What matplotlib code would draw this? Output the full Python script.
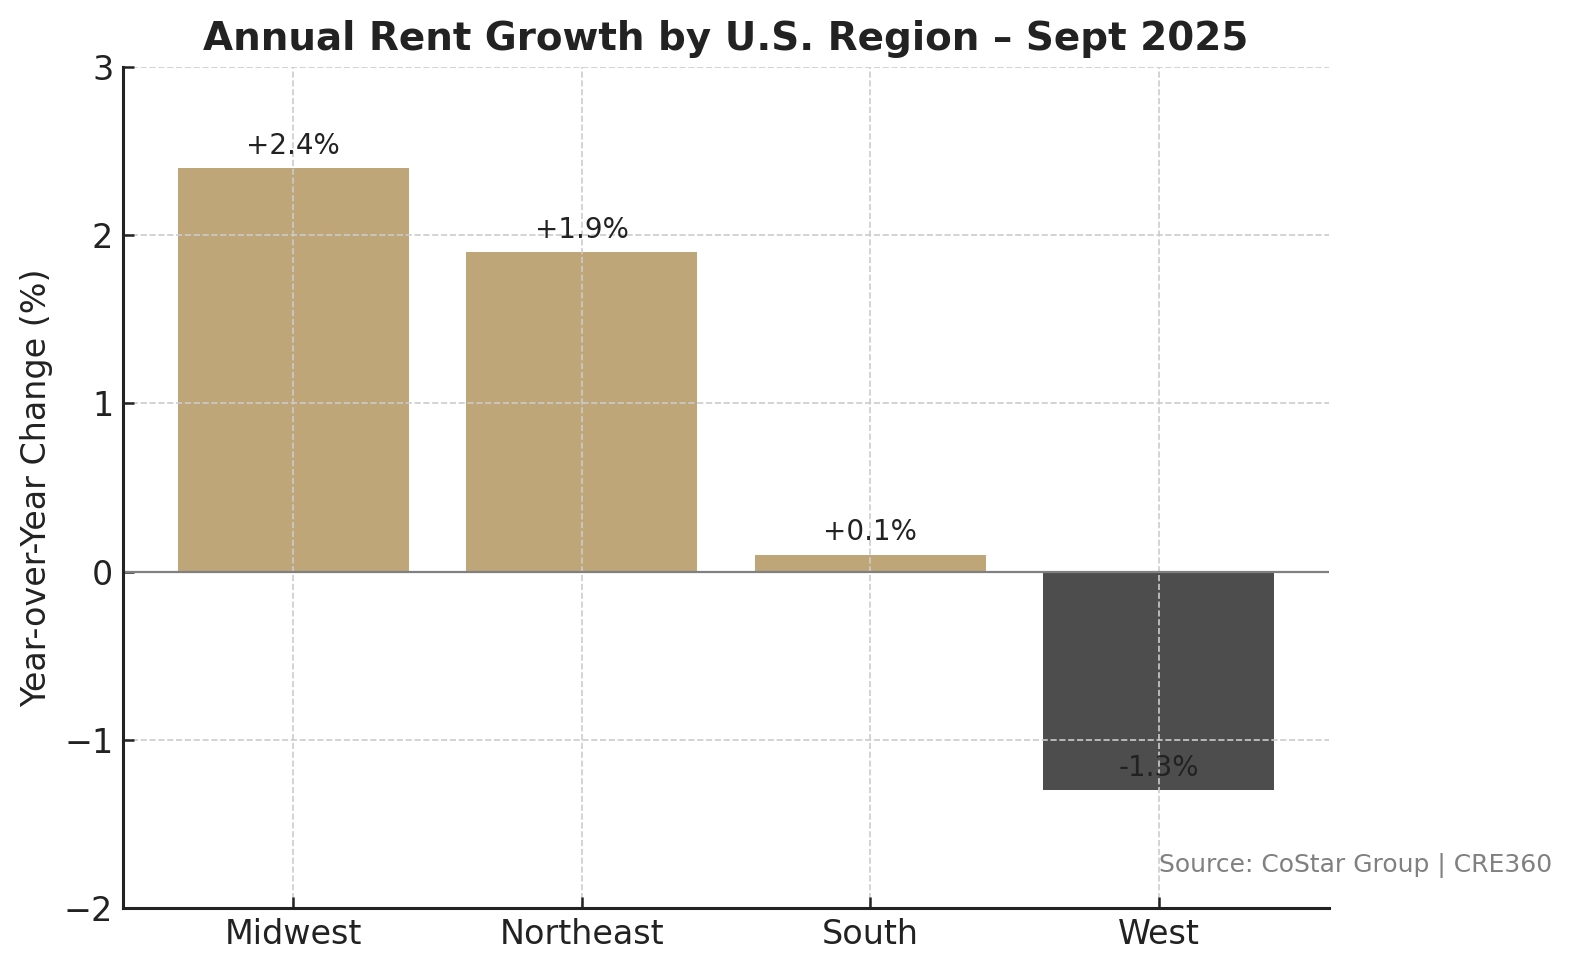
import matplotlib
matplotlib.use("Agg")
import matplotlib.pyplot as plt

# Sept 2025 annual rent growth by region (CoStar)
regions = ['Midwest', 'Northeast', 'South', 'West']
growth = [2.4, 1.9, 0.1, -1.3]
labels = ['+2.4%', '+1.9%', '+0.1%', '-1.3%']

gold = '#bfa678'
dark = '#4d4d4d'
ink = '#222222'

plt.rcParams['font.family'] = 'DejaVu Sans'
plt.rcParams['text.color'] = ink
plt.rcParams['axes.labelcolor'] = ink
plt.rcParams['xtick.color'] = ink
plt.rcParams['ytick.color'] = ink

fig = plt.figure(figsize=(7.915, 4.9), dpi=200)
ax = fig.add_axes([0.0777, 0.0735, 0.7619, 0.8581])

colors = [gold if v >= 0 else dark for v in growth]
bars = ax.bar(regions, growth, width=0.8, color=colors)

ax.axhline(0, color='#808080', linewidth=0.8)

for i, (v, lab) in enumerate(zip(growth, labels)):
    ax.text(i, v + 0.05, lab, ha='center', va='bottom', fontsize=10, color=ink)

ax.set_ylim(-2, 3)
ax.set_yticks([-2, -1, 0, 1, 2, 3])
ax.set_yticklabels(['\u22122', '\u22121', '0', '1', '2', '3'])
ax.set_ylabel('Year-over-Year Change (%)', fontsize=12)
ax.set_title('Annual Rent Growth by U.S. Region \u2013 Sept 2025', fontsize=14,
             fontweight='bold', color=ink)

ax.grid(True, linestyle='--', color='#cccccc', linewidth=0.6)
ax.spines['top'].set_visible(False)
ax.spines['right'].set_visible(False)
for s in ['left', 'bottom']:
    ax.spines[s].set_color(ink)
    ax.spines[s].set_linewidth(1.1)
ax.tick_params(axis='both', direction='in', length=4, width=0.9, labelsize=12)

ax.text(3, -1.75, 'Source: CoStar Group | CRE360', ha='left', va='center',
        fontsize=9, color='#808080')

fig.savefig('out.png', dpi=200)
